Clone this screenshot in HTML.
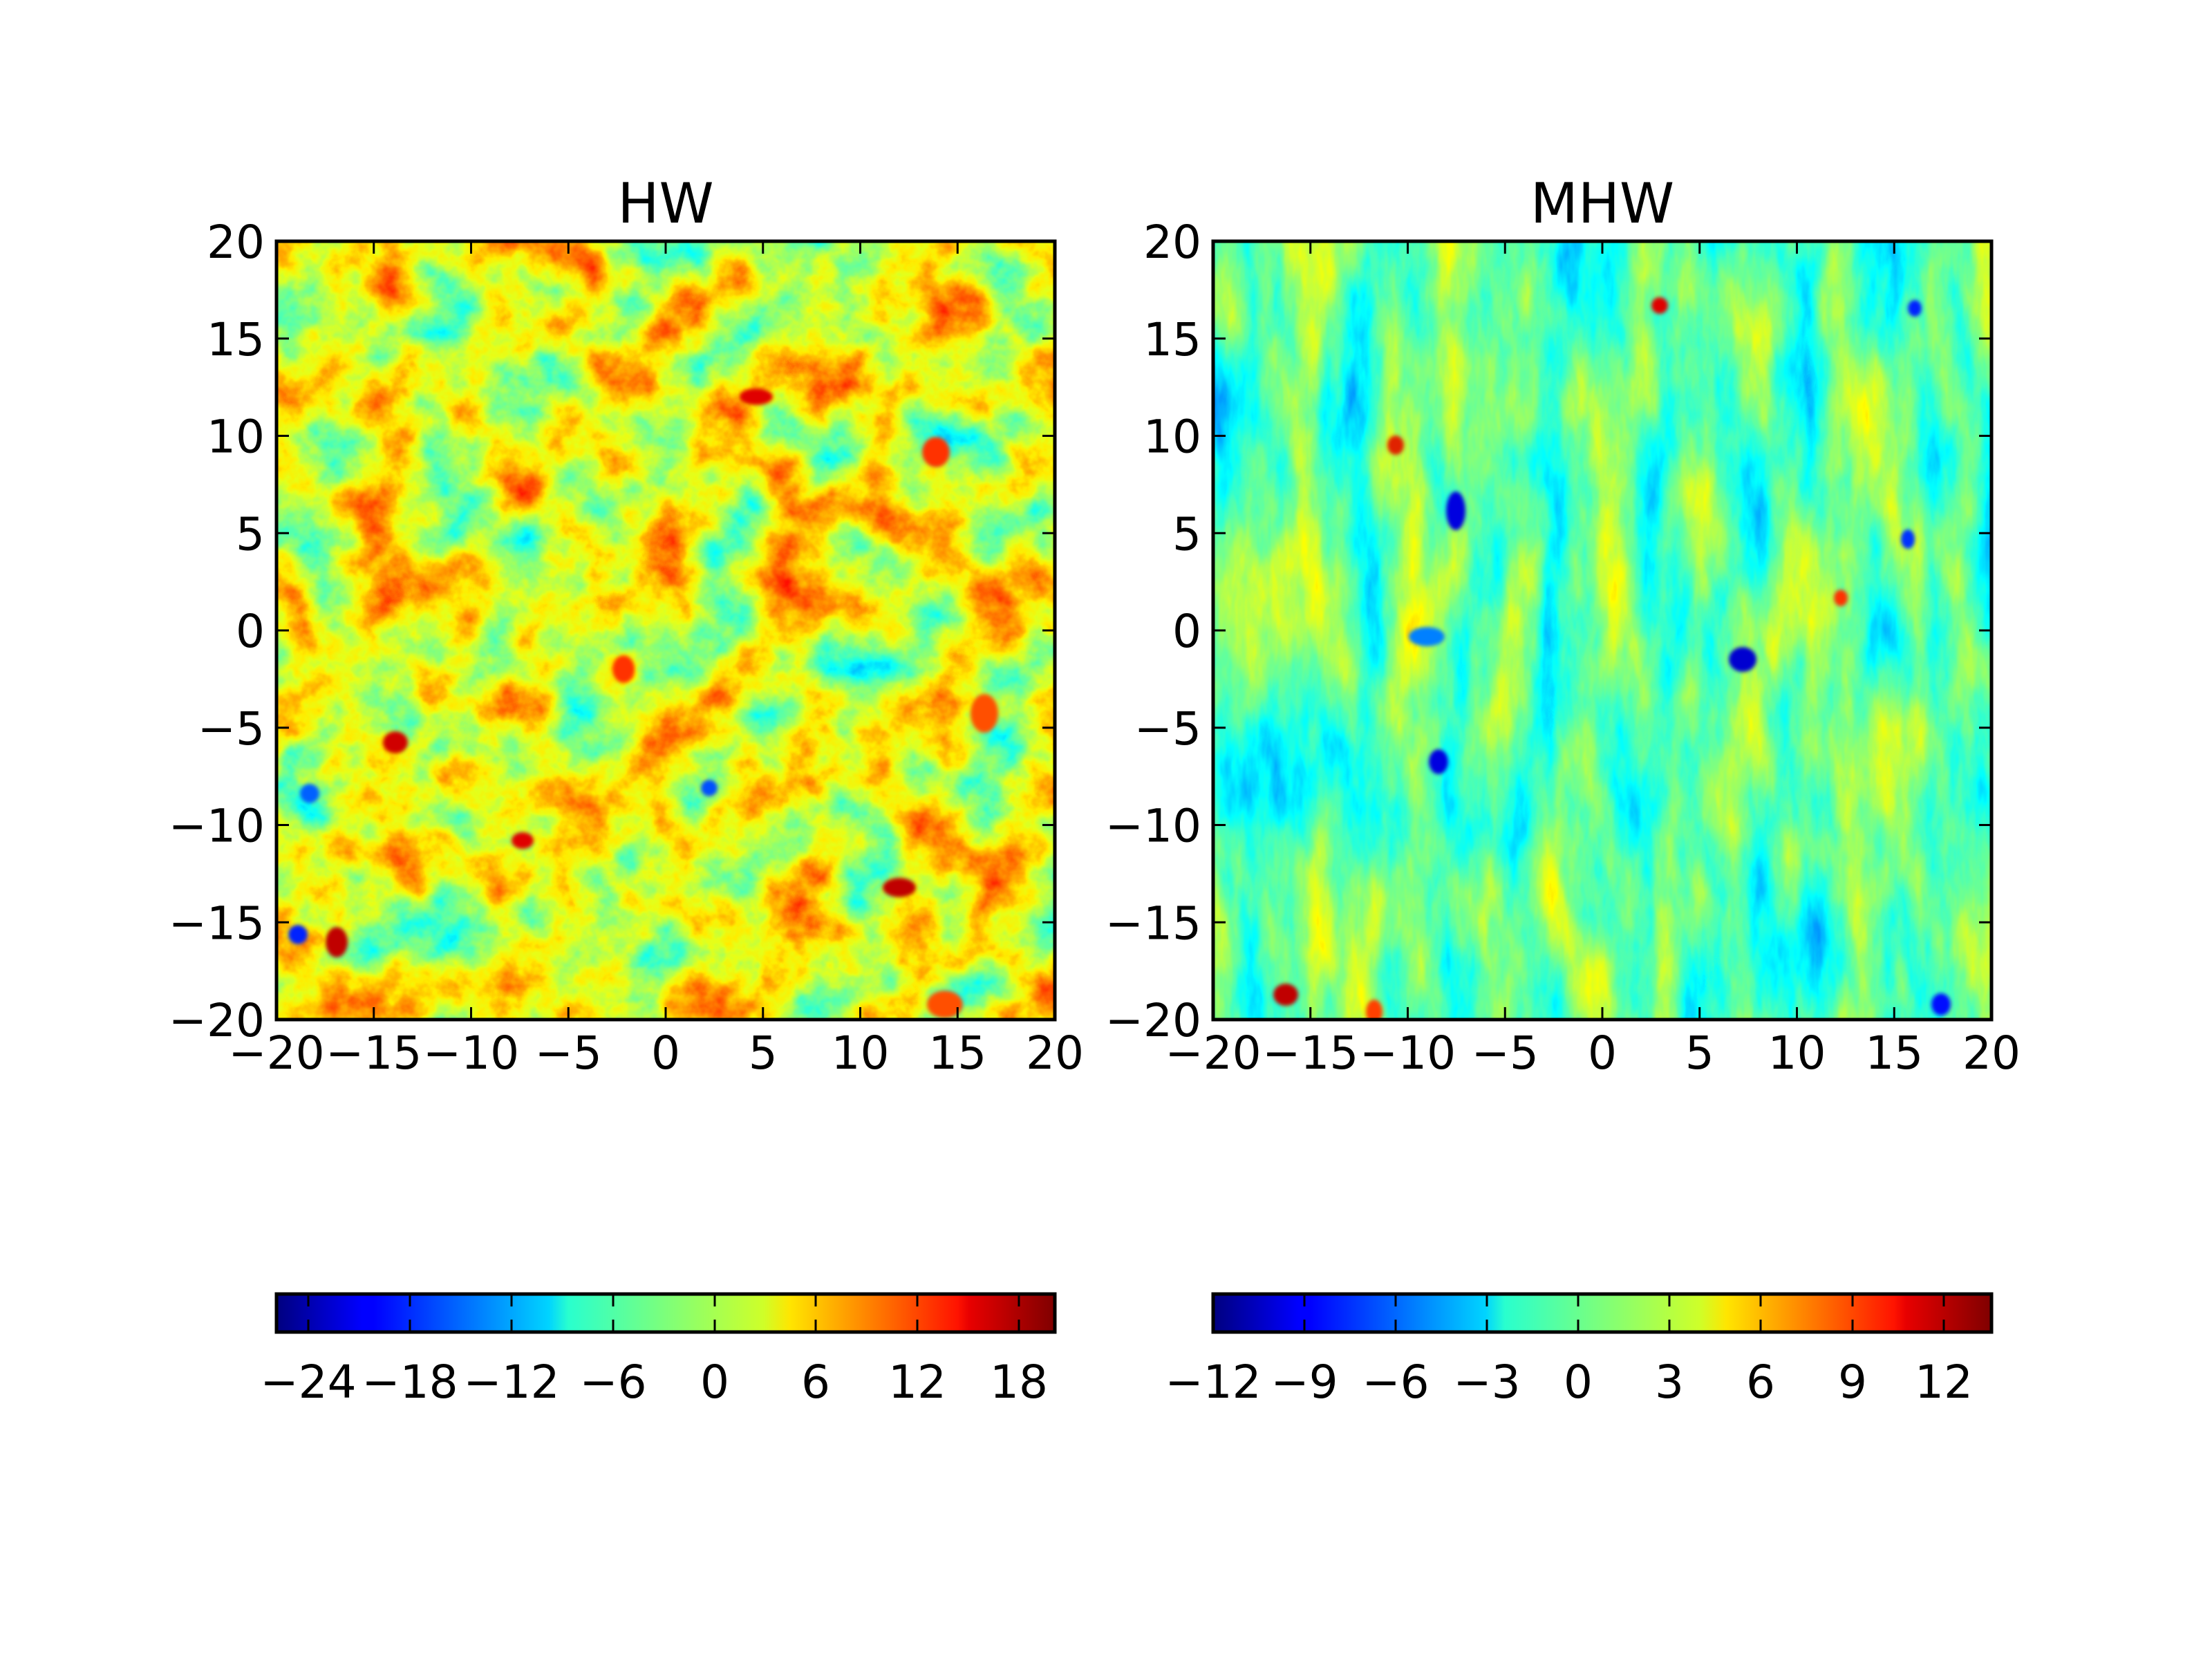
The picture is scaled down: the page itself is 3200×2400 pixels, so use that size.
<!DOCTYPE html>
<html><head><meta charset="utf-8"><style>
html,body{margin:0;padding:0;background:#fff;}
svg{display:block;}
text{font-family:"DejaVu Sans","Liberation Sans",sans-serif;fill:#000;}
</style></head><body>
<svg width="3200" height="2400" viewBox="0 0 3200 2400" xmlns="http://www.w3.org/2000/svg">
<defs>
<filter id="fhw" x="0" y="0" width="1" height="1" color-interpolation-filters="sRGB">
<feTurbulence type="fractalNoise" baseFrequency="0.01" numOctaves="5" seed="7"/>
<feColorMatrix type="matrix" values="1 0 0 0 0  1 0 0 0 0  1 0 0 0 0  0 0 0 0 1"/>
<feComponentTransfer>
<feFuncR type="table" tableValues="0 0 0 .03 .2 .38 .55 .73 .9 1 1 1 1 1 1 .88 .7"/>
<feFuncG type="table" tableValues=".5 .68 .85 1 1 1 1 1 1 .93 .75 .58 .4 .23 .05 0 0"/>
<feFuncB type="table" tableValues="1 1 1 .98 .8 .63 .45 .28 .1 0 0 0 0 0 0 0 0"/>
</feComponentTransfer>
</filter>
<filter id="fmhw" x="0" y="0" width="1" height="1" color-interpolation-filters="sRGB">
<feTurbulence type="fractalNoise" baseFrequency="0.014 0.004" numOctaves="5" seed="3"/>
<feColorMatrix type="matrix" values="1 0 0 0 0  1 0 0 0 0  1 0 0 0 0  0 0 0 0 1"/>
<feComponentTransfer>
<feFuncR type="table" tableValues="0 0 0 0 0 0 .13 .26 .38 .5 .63 .76 .88 1 1 1 1"/>
<feFuncG type="table" tableValues=".38 .5 .63 .76 .88 1 1 1 1 1 1 1 1 1 .87 .75 .62"/>
<feFuncB type="table" tableValues="1 1 1 1 1 1 .87 .75 .62 .5 .37 .25 .12 0 0 0 0"/>
</feComponentTransfer>
</filter>
<filter id="blur" x="-1" y="-1" width="3" height="3"><feGaussianBlur stdDeviation="3"/></filter>
<clipPath id="c1"><rect x="400" y="349" width="1126" height="1126"/></clipPath>
<clipPath id="c2"><rect x="1755" y="349" width="1126" height="1126"/></clipPath>
<linearGradient id="jet" x1="0" y1="0" x2="1" y2="0">
<stop offset="0" stop-color="#00007f"/><stop offset=".11" stop-color="#0000ff"/>
<stop offset=".125" stop-color="#0000ff"/><stop offset=".35" stop-color="#00d4ff"/>
<stop offset=".375" stop-color="#29ffce"/><stop offset=".5" stop-color="#7dff7a"/>
<stop offset=".625" stop-color="#ceff29"/><stop offset=".66" stop-color="#ffe500"/>
<stop offset=".875" stop-color="#ff1300"/><stop offset=".89" stop-color="#e80000"/>
<stop offset="1" stop-color="#7f0000"/>
</linearGradient>
</defs>

<g clip-path="url(#c1)">
<rect x="400" y="349" width="1126" height="1126" filter="url(#fhw)"/>
<g filter="url(#blur)">
<ellipse cx="572" cy="1074" rx="18" ry="16" fill="#d00000"/>
<ellipse cx="487" cy="1363" rx="16" ry="22" fill="#c00000"/>
<ellipse cx="902" cy="968" rx="16" ry="20" fill="#ff3000"/>
<ellipse cx="1301" cy="1284" rx="24" ry="14" fill="#c00000"/>
<ellipse cx="1094" cy="574" rx="24" ry="12" fill="#e00000"/>
<ellipse cx="1354" cy="654" rx="20" ry="22" fill="#ff3000"/>
<ellipse cx="1424" cy="1032" rx="20" ry="28" fill="#ff5000"/>
<ellipse cx="756" cy="1216" rx="16" ry="12" fill="#e00000"/>
<ellipse cx="1367" cy="1453" rx="26" ry="20" fill="#ff5000"/>
<ellipse cx="431" cy="1352" rx="14" ry="14" fill="#0020ff"/>
<ellipse cx="448" cy="1148" rx="14" ry="14" fill="#0060ff"/>
<ellipse cx="1026" cy="1140" rx="12" ry="12" fill="#0050ff"/>
</g>
</g>
<g clip-path="url(#c2)">
<rect x="1755" y="349" width="1126" height="1126" filter="url(#fmhw)"/>
<g filter="url(#blur)">
<ellipse cx="1860" cy="1439" rx="18" ry="16" fill="#c00000"/>
<ellipse cx="2401" cy="442" rx="12" ry="12" fill="#e00000"/>
<ellipse cx="2019" cy="644" rx="12" ry="14" fill="#e02000"/>
<ellipse cx="2663" cy="865" rx="10" ry="12" fill="#ff3000"/>
<ellipse cx="1988" cy="1464" rx="12" ry="18" fill="#ff4000"/>
<ellipse cx="2521" cy="954" rx="20" ry="18" fill="#0000d0"/>
<ellipse cx="2106" cy="739" rx="14" ry="28" fill="#0000e0"/>
<ellipse cx="2081" cy="1102" rx="14" ry="18" fill="#0000e0"/>
<ellipse cx="2808" cy="1453" rx="14" ry="16" fill="#0010ff"/>
<ellipse cx="2064" cy="921" rx="26" ry="14" fill="#0080ff"/>
<ellipse cx="2770" cy="446" rx="10" ry="12" fill="#0020ff"/>
<ellipse cx="2760" cy="780" rx="10" ry="14" fill="#0030ff"/>
</g>
</g>

<g fill="none" stroke="#000">
<rect x="400" y="349" width="1126" height="1126" stroke-width="5"/>
<rect x="1755" y="349" width="1126" height="1126" stroke-width="5"/>
<g stroke-width="3">
<path d="M540.75 349v18M681.5 349v18M822.25 349v18M963 349v18M1103.75 349v18M1244.5 349v18M1385.25 349v18
M540.75 1475v-18M681.5 1475v-18M822.25 1475v-18M963 1475v-18M1103.75 1475v-18M1244.5 1475v-18M1385.25 1475v-18
M400 489.75h18M400 630.5h18M400 771.25h18M400 912h18M400 1052.75h18M400 1193.5h18M400 1334.25h18
M1526 489.75h-18M1526 630.5h-18M1526 771.25h-18M1526 912h-18M1526 1052.75h-18M1526 1193.5h-18M1526 1334.25h-18"/>
<path transform="translate(1355 0)" d="M540.75 349v18M681.5 349v18M822.25 349v18M963 349v18M1103.75 349v18M1244.5 349v18M1385.25 349v18
M540.75 1475v-18M681.5 1475v-18M822.25 1475v-18M963 1475v-18M1103.75 1475v-18M1244.5 1475v-18M1385.25 1475v-18
M400 489.75h18M400 630.5h18M400 771.25h18M400 912h18M400 1052.75h18M400 1193.5h18M400 1334.25h18
M1526 489.75h-18M1526 630.5h-18M1526 771.25h-18M1526 912h-18M1526 1052.75h-18M1526 1193.5h-18M1526 1334.25h-18"/>
</g>
</g>

<rect x="400" y="1872" width="1126" height="55" fill="url(#jet)" stroke="#000" stroke-width="5"/>
<rect x="1755" y="1872" width="1126" height="55" fill="url(#jet)" stroke="#000" stroke-width="5"/>
<g stroke="#000" stroke-width="3">
<path d="M446 1872v18M593 1872v18M740 1872v18M887 1872v18M1034 1872v18M1180 1872v18M1327 1872v18M1474 1872v18
M446 1927v-18M593 1927v-18M740 1927v-18M887 1927v-18M1034 1927v-18M1180 1927v-18M1327 1927v-18M1474 1927v-18"/>
<path d="M1887 1872v18M2019 1872v18M2151 1872v18M2283 1872v18M2415 1872v18M2547 1872v18M2680 1872v18M2812 1872v18
M1887 1927v-18M2019 1927v-18M2151 1927v-18M2283 1927v-18M2415 1927v-18M2547 1927v-18M2680 1927v-18M2812 1927v-18"/>
</g>

<text x="963" y="322" font-size="80" text-anchor="middle">HW</text>
<text x="2318" y="322" font-size="80" text-anchor="middle">MHW</text>

<g font-size="66" text-anchor="middle">
<text x="400" y="1546">−20</text><text x="540.75" y="1546">−15</text><text x="681.5" y="1546">−10</text><text x="822.25" y="1546">−5</text><text x="963" y="1546">0</text><text x="1103.75" y="1546">5</text><text x="1244.5" y="1546">10</text><text x="1385.25" y="1546">15</text><text x="1526" y="1546">20</text>
<text x="1755" y="1546">−20</text><text x="1895.75" y="1546">−15</text><text x="2036.5" y="1546">−10</text><text x="2177.25" y="1546">−5</text><text x="2318" y="1546">0</text><text x="2458.75" y="1546">5</text><text x="2599.5" y="1546">10</text><text x="2740.25" y="1546">15</text><text x="2881" y="1546">20</text>
<text x="446" y="2022">−24</text><text x="593" y="2022">−18</text><text x="740" y="2022">−12</text><text x="887" y="2022">−6</text><text x="1034" y="2022">0</text><text x="1180" y="2022">6</text><text x="1327" y="2022">12</text><text x="1474" y="2022">18</text>
<text x="1755" y="2022">−12</text><text x="1887" y="2022">−9</text><text x="2019" y="2022">−6</text><text x="2151" y="2022">−3</text><text x="2283" y="2022">0</text><text x="2415" y="2022">3</text><text x="2547" y="2022">6</text><text x="2680" y="2022">9</text><text x="2812" y="2022">12</text>
</g>
<g font-size="66" text-anchor="end">
<text x="383" y="373">20</text><text x="383" y="513.75">15</text><text x="383" y="654.5">10</text><text x="383" y="795.25">5</text><text x="383" y="936">0</text><text x="383" y="1076.75">−5</text><text x="383" y="1217.5">−10</text><text x="383" y="1358.25">−15</text><text x="383" y="1499">−20</text>
<text x="1738" y="373">20</text><text x="1738" y="513.75">15</text><text x="1738" y="654.5">10</text><text x="1738" y="795.25">5</text><text x="1738" y="936">0</text><text x="1738" y="1076.75">−5</text><text x="1738" y="1217.5">−10</text><text x="1738" y="1358.25">−15</text><text x="1738" y="1499">−20</text>
</g>
</svg>
</body></html>
